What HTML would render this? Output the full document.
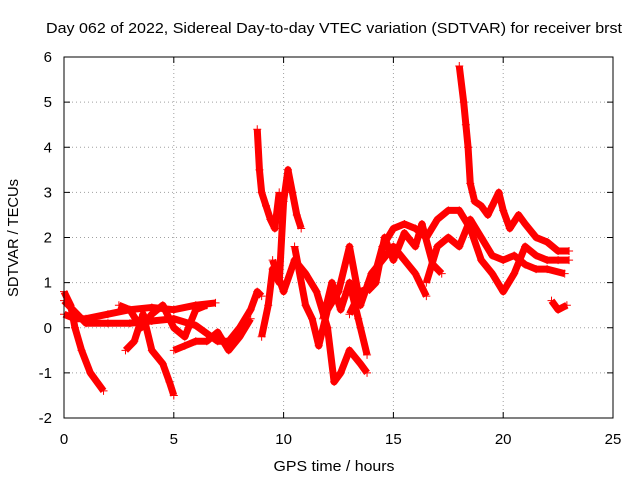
<!DOCTYPE html>
<html><head><meta charset="utf-8"><style>
body{margin:0;background:#fff}
svg{display:block;font-family:"Liberation Sans",sans-serif}
</style></head><body>
<svg width="640" height="480" xmlns="http://www.w3.org/2000/svg">
<text x="334" y="33" font-size="15" text-anchor="middle" textLength="576" lengthAdjust="spacingAndGlyphs">Day 062 of 2022, Sidereal Day-to-day VTEC variation (SDTVAR) for receiver brst</text>
<text x="334" y="471" font-size="15" text-anchor="middle" textLength="121" lengthAdjust="spacingAndGlyphs">GPS time / hours</text>
<text transform="translate(18,238) rotate(-90)" font-size="15" text-anchor="middle" textLength="118" lengthAdjust="spacingAndGlyphs">SDTVAR / TECUs</text>
<g id="grid"></g>
<g id="axes"></g>
<g id="marks"></g>
<rect x="64" y="57" width="549" height="361" fill="none" stroke="#000"/>
</svg>
<script>
const xTicks=[0,5,10,15,20,25];
const yTicks=[-2,-1,0,1,2,3,4,5,6];
const T1=[[0,0.8],[0.3,0.5],[0.5,0],[0.8,-0.5],[1.2,-1],[1.5,-1.2],[1.8,-1.4]];
const T2=[[0,0.3],[0.5,0.2],[1,0.2],[2,0.3],[3,0.4],[4,0.45],[5,0.4],[6,0.5],[6.9,0.55]];
const T3=[[0,0.6],[0.5,0.35],[1,0.1],[2,0.1],[3,0.1],[4,0.15],[5,0.2],[6,0.05],[7,-0.3],[7.5,-0.3],[8,0],[8.5,0.4],[8.8,0.8],[9,0.7]];
const T4=[[2.8,-0.5],[3.2,-0.3],[3.6,0.3],[4,-0.5],[4.5,-0.8],[4.8,-1.2],[5,-1.5]];
const T5=[[5,-0.5],[5.5,-0.4],[6,-0.3],[6.5,-0.3],[7,-0.1],[7.5,-0.5],[8,-0.2],[8.5,0.2]];
const T6=[[8.8,4.4],[8.9,3.5],[9,3.0],[9.2,2.7],[9.4,2.4],[9.6,2.2],[9.8,3]];
const T7=[[9,-0.2],[9.3,0.5],[9.5,1.3],[9.8,1.0],[10,2.8],[10.2,3.5],[10.4,3],[10.6,2.5],[10.8,2.2]];
const T8=[[9.5,1.5],[10,0.8],[10.5,1.5],[11,1.2],[11.5,0.8],[12,0],[12.3,-1.2],[12.6,-1.0],[13,-0.5],[13.5,-0.8],[13.8,-1.0]];
const T9=[[10.5,1.8],[11,0.5],[11.3,0.2],[11.6,-0.4],[12,0.4],[12.5,0.8],[13,1.8],[13.5,0.5],[14,1.2],[14.5,1.5],[15,1.8],[15.5,1.5],[16,1.2],[16.5,0.7]];
const T10=[[13,0.3],[13.5,0.8],[14,0.9],[14.5,1.8],[15,2.2],[15.5,2.3],[16,2.2],[16.5,2.0],[17,2.4],[17.5,2.6],[18,2.6],[18.5,2.2],[19,1.5],[19.5,1.2],[20,0.8],[20.5,1.2],[21,1.8],[21.5,1.6],[22,1.5],[22.5,1.5],[23,1.5]];
const T11=[[16.5,1.0],[17,1.8],[17.5,2.0],[18,1.8],[18.5,2.4],[19,2.0],[19.5,1.6],[20,1.5],[20.5,1.6],[21,1.4],[21.5,1.3],[22,1.3],[22.8,1.2]];
const T12=[[18,5.8],[18.2,5],[18.3,4.5],[18.4,4],[18.5,3.2],[18.7,2.8],[19,2.7],[19.3,2.5],[19.5,2.7],[19.8,3.0],[20,2.6],[20.3,2.2],[20.7,2.5],[21,2.3],[21.5,2.0],[22,1.9],[22.5,1.7],[23,1.7]];
const T13=[[22.2,0.6],[22.5,0.4],[22.9,0.5]];
const T14=[[2.5,0.5],[3,0.4],[3.5,0.0],[4,0.3],[4.5,0.5],[5,0.0],[5.5,-0.2],[6,0.4],[6.5,0.5]];
const T15=[[13.8,0.8],[14.2,1.0],[14.6,2.0],[15,1.5],[15.5,2.1],[16,1.8],[16.3,2.3],[16.8,1.4],[17.2,1.2]];
const T16=[[11.8,0.2],[12.2,1.0],[12.6,0.4],[13,1.0],[13.4,0.2],[13.8,-0.6]];
const tracks=[T1,T2,T3,T4,T5,T6,T7,T8,T9,T10,T11,T12,T13,T14,T15,T16];
const X=v=>64+v*(549/25), Y=v=>418-(v+2)*(361/8);
const NS="http://www.w3.org/2000/svg";
const mk=(t,a,p)=>{const e=document.createElementNS(NS,t);for(const k in a)e.setAttribute(k,a[k]);p.appendChild(e);return e;};
const g=document.getElementById('grid'),ax=document.getElementById('axes'),m=document.getElementById('marks');
xTicks.forEach(t=>{const x=X(t);
 if(t>0&&t<25){const l=mk('line',{x1:x,x2:x,y1:57,y2:418,stroke:'#a0a0a0','stroke-dasharray':'1,3'},g);}
 mk('line',{x1:x,x2:x,y1:418,y2:412,stroke:'#000'},ax);mk('line',{x1:x,x2:x,y1:57,y2:63,stroke:'#000'},ax);
 const tx=mk('text',{x:x,y:444,'font-size':15,'text-anchor':'middle'},ax);tx.textContent=t;
 });
yTicks.forEach(t=>{const y=Y(t);
 if(t>-2&&t<6){const l=mk('line',{x1:64,x2:613,y1:y,y2:y,stroke:'#a0a0a0','stroke-dasharray':'1,3'},g);}
 mk('line',{x1:64,x2:70,y1:y,y2:y,stroke:'#000'},ax);mk('line',{x1:613,x2:607,y1:y,y2:y,stroke:'#000'},ax);
 const tx=mk('text',{x:52,y:y+5,'font-size':15,'text-anchor':'end'},ax);tx.textContent=t;
 });
tracks.forEach(tr=>{
 const pl=mk('polyline',{points:tr.map(p=>X(p[0])+','+Y(p[1])).join(' '),fill:'none',stroke:'#f00','stroke-width':7,'stroke-linejoin':'round'},m);
 
 tr.forEach(p=>{const x=X(p[0]),y=Y(p[1]);
  const pt=mk('path',{d:`M${x-4},${y}h8M${x},${y-4}v8`,stroke:'#f00','stroke-width':1},m);
  });
});
</script>
</body></html>
